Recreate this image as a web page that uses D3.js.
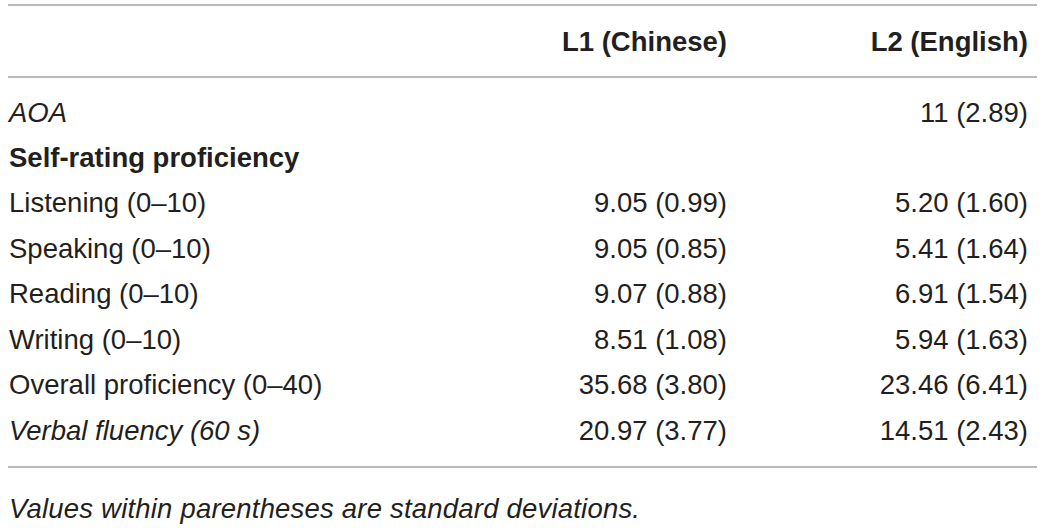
<!DOCTYPE html>
<html>
<head>
<meta charset="utf-8">
<script src="https://cdn.jsdelivr.net/npm/d3@7"></script>
<style>
  html, body { margin: 0; padding: 0; background: #fff; }
  text { font-family: "Liberation Sans", Arial, sans-serif; fill: #231f20; }
</style>
</head>
<body>
<svg width="1042" height="528"></svg>
<script>
// Table content
const columns = ["", "L1 (Chinese)", "L2 (English)"];
const rowLabels = ["AOA", "Self-rating proficiency", "Listening (0–10)", "Speaking (0–10)",
    "Reading (0–10)", "Writing (0–10)", "Overall proficiency (0–40)", "Verbal fluency (60 s)"];
const l1Values = ["", "", "9.05 (0.99)", "9.05 (0.85)", "9.07 (0.88)", "8.51 (1.08)", "35.68 (3.80)", "20.97 (3.77)"];
const l2Values = ["11 (2.89)", "", "5.20 (1.60)", "5.41 (1.64)", "6.91 (1.54)", "5.94 (1.63)", "23.46 (6.41)", "14.51 (2.43)"];
const rowStyles = ["italic", "bold", "normal", "normal", "normal", "normal", "normal", "italic"];
const footnote = "Values within parentheses are standard deviations.";

const svg = d3.select("svg"),
    left = 8, right = 1037,
    fontSize = 27.5;

// Column anchors: label column left-aligned, value columns right-aligned
const x = d3.scaleOrdinal()
    .domain(columns)
    .range([9, 727, 1028]);

// Row positions (vertical centre of each text line)
const y = d3.scalePoint()
    .domain(d3.range(rowLabels.length))
    .range([112, 430]);

// Rules
const rules = [5, 77, 467];
svg.selectAll(".rule")
    .data(rules)
    .enter().append("line")
    .attr("class", "rule")
    .attr("x1", left)
    .attr("x2", right)
    .attr("y1", d => d)
    .attr("y2", d => d)
    .attr("stroke", "#a3a3a3")
    .attr("stroke-width", 1.5);

// Header
svg.selectAll(".head")
    .data(columns.slice(1))
    .enter().append("text")
    .attr("class", "head")
    .attr("x", d => x(d))
    .attr("y", 41)
    .attr("dy", "0.35em")
    .attr("text-anchor", "end")
    .attr("font-weight", "bold")
    .attr("font-size", fontSize)
    .text(d => d);

// Row labels
svg.selectAll(".label")
    .data(rowLabels)
    .enter().append("text")
    .attr("class", "label")
    .attr("x", x(""))
    .attr("y", (d, i) => y(i))
    .attr("dy", "0.35em")
    .attr("font-size", fontSize)
    .attr("font-weight", (d, i) => rowStyles[i] === "bold" ? "bold" : "normal")
    .attr("font-style", (d, i) => rowStyles[i] === "italic" ? "italic" : "normal")
    .text(d => d);

// Value cells
[[columns[1], l1Values], [columns[2], l2Values]].forEach(([col, vals]) => {
    svg.selectAll(null)
        .data(vals)
        .enter().append("text")
        .attr("x", x(col))
        .attr("y", (d, i) => y(i))
        .attr("dy", "0.35em")
        .attr("text-anchor", "end")
        .attr("font-size", fontSize)
        .text(d => d);
});

// Footnote
svg.append("text")
    .attr("x", x(""))
    .attr("y", 508)
    .attr("dy", "0.35em")
    .attr("font-size", fontSize)
    .attr("font-style", "italic")
    .attr("letter-spacing", 0.2)
    .text(footnote);
</script>
</body>
</html>
